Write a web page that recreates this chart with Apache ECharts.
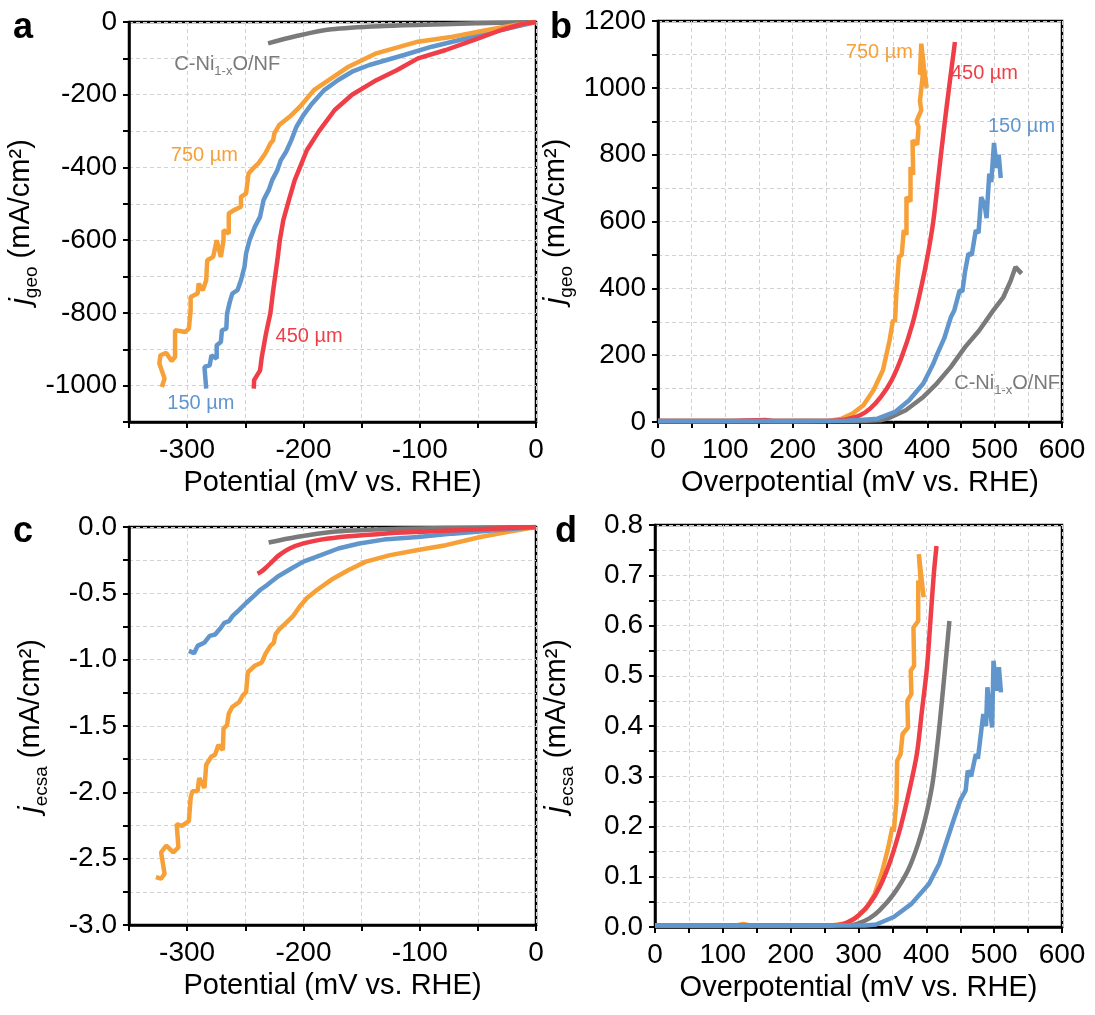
<!DOCTYPE html>
<html>
<head>
<meta charset="utf-8">
<script src="https://cdn.jsdelivr.net/npm/echarts@6/dist/echarts.min.js"></script>
<style>html,body{margin:0;padding:0;background:#fff;}#chart{width:1095px;height:1015px;}</style>
</head>
<body>
<div id="chart"></div>
<script>
// ---------- DATA ----------
// Panel a: j_geo vs potential (HER)
const aGray = [[-230.4,-58.7],[-206,-38.5],[-176,-20],[-131,-11],[-72,-5.5],[-30,-2],[0,0]];
const aOrange = [[-321.8,-1003.7],[-319.4,-980.7],[-323.9,-939.4],[-323.0,-916.5],[-317.9,-910.1],[-313.4,-932.1],[-310.4,-921.1],[-310.4,-847.7],[-301.5,-852.3],[-298.5,-843.1],[-297.0,-792.7],[-297.0,-756.0],[-291.0,-746.8],[-290.1,-719.3],[-286.6,-737.6],[-283.6,-710.1],[-282.7,-655.0],[-277.6,-645.9],[-274.6,-600.0],[-271.0,-645.9],[-268.7,-600.0],[-268.7,-572.5],[-264.2,-581.7],[-264.2,-526.6],[-259.7,-517.4],[-253.7,-508.3],[-253.7,-480.7],[-249.3,-471.6],[-247.2,-416.5],[-243.3,-402.8],[-238.8,-389.0],[-232.8,-361.5],[-228.4,-334.0],[-226.0,-325],[-225.0,-306],[-220.9,-283.5],[-211.9,-260.6],[-203.0,-233.0],[-191.0,-187.2],[-176.1,-155.0],[-161.2,-122.9],[-137.3,-86.2],[-101.5,-54.1],[-71.6,-40.4],[-41.8,-22.0],[-17.9,-8.3],[0,0]];
const aBlue = [[-283.6,-1008.3],[-285.1,-948.6],[-280.6,-944.0],[-279.1,-916.5],[-274.6,-925.7],[-274.6,-889.0],[-271.0,-879.8],[-270.1,-847.7],[-266.3,-843.1],[-265.7,-801.8],[-263.3,-769.7],[-261.2,-746.8],[-256.7,-737.6],[-253.7,-710.1],[-250.7,-673.4],[-249.3,-636.7],[-246.3,-600.0],[-241.8,-563.3],[-237.3,-535.8],[-234.3,-489.9],[-229.9,-462.4],[-226.9,-434.9],[-222.4,-407.3],[-219.4,-379.8],[-214.9,-356.9],[-210.4,-324.8],[-206.0,-288.1],[-200.0,-256.0],[-192.5,-223.9],[-182.1,-187.2],[-170.1,-159.6],[-158.2,-136.7],[-143.3,-118.3],[-128.4,-104.6],[-113.4,-90.8],[-89.6,-67.9],[-65.7,-49.5],[-35.8,-26.6],[0,0]];
const aRed = [[-242.7,-1008],[-242.4,-985],[-237.3,-958],[-235.8,-921],[-232.2,-857],[-228.4,-800],[-226.0,-738],[-222.4,-655],[-220.3,-600],[-217.3,-545],[-212.5,-490],[-207.5,-435],[-203.0,-400],[-197.0,-352],[-186.6,-300],[-173.1,-242],[-158.2,-200],[-137.3,-160],[-119.4,-132],[-101.5,-100],[-77.6,-77],[-53.7,-50],[-29.9,-22],[-11.9,-5.5],[0,0]];

// Panel b: j_geo vs overpotential (OER)
const bGray = [[0,3],[200,3],[300,3],[330,5],[341,10],[368,35],[394,75],[414,115],[435,165],[456,224],[477,274],[498,334],[513,374],[524,424],[531,464],[540,444]];
const bOrange = [[0,3],[100,3],[200,3],[255,4],[273,10],[289,25],[305,50],[320,95],[334,155],[344,245],[349,305],[352,300],[354,385],[356,380],[358,494],[362,500],[365,574],[369,560],[369,673],[375,660],[375,763],[379,740],[378,843],[385,830],[387,883],[384,900],[391,933],[389,960],[394,1052],[389,1040],[391,1132],[395,1060],[399,1000]];
const bRed = [[0,3],[100,3],[160,6],[170,3],[250,3],[270,5],[284,10],[300,20],[315,40],[331,75],[347,125],[362,195],[378,294],[391,404],[401,504],[409,603],[417,743],[425,883],[433,1012],[441,1137]];
const bBlue = [[0,3],[100,3],[200,3],[280,4],[300,6],[326,10],[352,30],[373,65],[394,115],[409,175],[414,200],[425,250],[435,314],[440,334],[448,394],[452,390],[456,450],[461,504],[466,500],[472,574],[476,565],[480,673],[485,650],[488,610],[490,680],[492,743],[495,718],[499,835],[503,760],[506,800],[509,730]];

// Panel c: j_ecsa vs potential
const cGray = [[-229.9,-0.117],[-206,-0.075],[-176,-0.037],[-131,-0.017],[-72,-0.007],[0,0]];
const cRed = [[-239.4,-0.353],[-236,-0.335],[-232.8,-0.311],[-226.9,-0.261],[-220.9,-0.212],[-211.9,-0.162],[-200,-0.124],[-185,-0.095],[-161,-0.070],[-131,-0.050],[-101.5,-0.037],[-56.7,-0.020],[0,0]];
const cBlue = [[-298.5,-0.934],[-294,-0.951],[-291,-0.896],[-285,-0.87],[-280.6,-0.821],[-276,-0.81],[-271,-0.759],[-268,-0.722],[-264,-0.71],[-261,-0.672],[-255,-0.622],[-249.3,-0.573],[-243,-0.523],[-237,-0.473],[-231,-0.436],[-222,-0.373],[-210,-0.311],[-200,-0.261],[-185,-0.212],[-170,-0.162],[-152,-0.124],[-131,-0.095],[-101.5,-0.075],[-71.6,-0.050],[-35.8,-0.025],[0,0]];
const cOrange = [[-326.9,-2.639],[-322.4,-2.651],[-319.4,-2.614],[-322.4,-2.452],[-317.9,-2.402],[-311.9,-2.452],[-307.5,-2.415],[-309.0,-2.240],[-304.5,-2.253],[-298.5,-2.216],[-297.0,-2.041],[-295.5,-1.992],[-291.0,-1.99],[-289.6,-1.892],[-285.1,-1.967],[-283.6,-1.792],[-279.1,-1.730],[-276.1,-1.718],[-273.1,-1.643],[-269.3,-1.680],[-268.7,-1.519],[-265.7,-1.494],[-264.2,-1.407],[-261.2,-1.357],[-255.2,-1.319],[-252.2,-1.270],[-249.3,-1.245],[-247.8,-1.095],[-241.8,-1.046],[-235.8,-1.021],[-232.8,-0.958],[-228.4,-0.896],[-225.4,-0.871],[-224.0,-0.809],[-220.9,-0.772],[-214.9,-0.722],[-209.0,-0.672],[-203.0,-0.597],[-197.0,-0.535],[-188.1,-0.473],[-176.1,-0.398],[-161.2,-0.324],[-146.3,-0.261],[-125.4,-0.212],[-101.5,-0.174],[-77.6,-0.137],[-47.8,-0.075],[-23.9,-0.037],[0,0]];

// Panel d: j_ecsa vs overpotential
const dGray = [[0,0.003],[290,0.004],[300,0.007],[316,0.017],[331,0.033],[352,0.066],[373,0.113],[388,0.166],[399,0.219],[409,0.285],[417,0.371],[424,0.464],[430,0.55],[434,0.609]];
const dOrange = [[0,0.003],[120,0.003],[130,0.006],[140,0.003],[260,0.003],[280,0.007],[295,0.017],[311,0.036],[324,0.066],[334,0.106],[344,0.159],[350,0.199],[352,0.19],[356,0.252],[357,0.331],[362,0.344],[365,0.384],[373,0.397],[372,0.45],[378,0.464],[377,0.51],[382,0.52],[381,0.596],[388,0.609],[388,0.689],[392,0.68],[389,0.742],[396,0.656]];
const dRed = [[0,0.003],[270,0.004],[285,0.010],[300,0.023],[316,0.046],[331,0.079],[347,0.132],[362,0.199],[375,0.272],[386,0.344],[393,0.424],[401,0.517],[406,0.609],[411,0.702],[415,0.758]];
const dBlue = [[0,0.003],[310,0.003],[326,0.005],[352,0.02],[378,0.046],[404,0.086],[419,0.126],[432,0.179],[440,0.212],[450,0.252],[458,0.272],[461,0.311],[466,0.300],[473,0.344],[476,0.335],[481,0.391],[484,0.424],[488,0.400],[490,0.477],[497,0.397],[499,0.53],[504,0.47],[507,0.517],[510,0.467]];

// Labels
const sampleLabels = ['750 µm', '450 µm', '150 µm'];
const refLabel = '{t|C-Ni}{s|1-x}{t|O/NF}';

// ---------- STYLE ----------
const FONT = "'Liberation Sans', Arial, Helvetica, sans-serif";
const C_OR = '#F6A037', C_RED = '#EF3E47', C_BLUE = '#6196CD', C_GRAY = '#7A7A7A';
const gridLine = { show: true, lineStyle: { color: '#d2d2d2', type: [4, 3], width: 1 } };
const axisLine = { show: true, onZero: false, lineStyle: { color: '#000', width: 2.5 } };
const axisTick = { show: true, inside: false, length: 6, lineStyle: { color: '#000', width: 2 } };

function isMult(v, step) { return Math.abs(v / step - Math.round(v / step)) < 1e-6; }

function xAx(grid, min, max, name) {
  return {
    gridIndex: grid, type: 'value', min: min, max: max, interval: 50,
    axisLine: axisLine, axisTick: axisTick, splitLine: gridLine,
    axisLabel: { fontSize: 28, fontFamily: FONT, color: '#000', margin: 14, showMinLabel: true, showMaxLabel: true,
      formatter: v => isMult(v, 100) ? String(Math.round(v)) : '' },
    name: name, nameLocation: 'middle', nameGap: 46,
    nameTextStyle: { fontSize: 29, fontFamily: FONT, color: '#000' }
  };
}
function yAx(grid, min, max, interval, labStep, dec, sub) {
  return {
    gridIndex: grid, type: 'value', min: min, max: max, interval: interval,
    axisLine: axisLine, axisTick: axisTick, splitLine: gridLine,
    axisLabel: { fontSize: 28, fontFamily: FONT, color: '#000', margin: 12, showMinLabel: true, showMaxLabel: true,
      formatter: v => isMult(v, labStep) ? (dec ? v.toFixed(dec) : String(Math.round(v))) : '' },
    name: '{i|j}{s|' + sub + '}{n| (mA/cm²)}', nameLocation: 'middle', nameRotate: 90, nameGap: dec ? 78 : 82,
    nameTextStyle: { fontFamily: FONT, color: '#000', fontSize: 29,
      rich: {
        i: { fontStyle: 'italic', fontSize: 30, fontFamily: FONT, color: '#000', lineHeight: 40 },
        s: { fontSize: 19, fontFamily: FONT, color: '#000', lineHeight: 19, verticalAlign: 'bottom' },
        n: { fontSize: 29, fontFamily: FONT, color: '#000', lineHeight: 40 }
      } }
  };
}
function line(name, data, color, xi, smooth, mp) {
  const s = { name: name, type: 'line', xAxisIndex: xi, yAxisIndex: xi, data: data, showSymbol: false, symbol: 'none',
    smooth: smooth ? 0.3 : false, lineStyle: { color: color, width: 4.5 }, itemStyle: { color: color }, animation: false, z: 3 };
  if (mp) {
    s.markPoint = { symbol: 'circle', symbolSize: 0, silent: true, animation: false,
      data: mp.map(m => ({ coord: m.coord, value: 0, label: { show: true, position: 'right', distance: 0,
        formatter: m.text, color: color, fontSize: 20, fontFamily: FONT,
        rich: { t: { fontSize: 20, fontFamily: FONT, color: color, lineHeight: 26 },
                s: { fontSize: 13, fontFamily: FONT, color: color, lineHeight: 13, verticalAlign: 'bottom' } } } })) };
  }
  return s;
}

const option = {
  backgroundColor: '#fff',
  animation: false,
  grid: [
    { left: 129, top: 22, width: 407, height: 400, show: true, borderColor: '#000', borderWidth: 2.5 },
    { left: 658, top: 21, width: 404, height: 401, show: true, borderColor: '#000', borderWidth: 2.5 },
    { left: 129, top: 527, width: 407, height: 398, show: true, borderColor: '#000', borderWidth: 2.5 },
    { left: 655, top: 525, width: 407, height: 402, show: true, borderColor: '#000', borderWidth: 2.5 }
  ],
  xAxis: [
    xAx(0, -350, 0, 'Potential (mV vs. RHE)'),
    xAx(1, 0, 600, 'Overpotential (mV vs. RHE)'),
    xAx(2, -350, 0, 'Potential (mV vs. RHE)'),
    xAx(3, 0, 600, 'Overpotential (mV vs. RHE)')
  ],
  yAxis: [
    yAx(0, -1100, 0, 100, 200, 0, 'geo'),
    yAx(1, 0, 1200, 100, 200, 0, 'geo'),
    yAx(2, -3, 0, 0.25, 0.5, 1, 'ecsa'),
    yAx(3, 0, 0.8, 0.05, 0.1, 1, 'ecsa')
  ],
  graphic: [
    { type: 'text', left: 13, top: 10, style: { text: 'a', font: 'bold 36px ' + FONT, fill: '#000' } },
    { type: 'text', left: 550, top: 10, style: { text: 'b', font: 'bold 36px ' + FONT, fill: '#000' } },
    { type: 'text', left: 13, top: 514, style: { text: 'c', font: 'bold 36px ' + FONT, fill: '#000' } },
    { type: 'text', left: 555, top: 514, style: { text: 'd', font: 'bold 36px ' + FONT, fill: '#000' } }
  ],
  series: [
    line('C-Ni1-xO/NF', aGray, C_GRAY, 0, true, [{ coord: [-311, -118], text: refLabel }]),
    line('150 µm', aBlue, C_BLUE, 0, false, [{ coord: [-317, -1050], text: sampleLabels[2] }]),
    line('750 µm', aOrange, C_OR, 0, false, [{ coord: [-314, -366], text: sampleLabels[0] }]),
    line('450 µm', aRed, C_RED, 0, false, [{ coord: [-224, -866], text: sampleLabels[1] }]),

    line('C-Ni1-xO/NF', bGray, C_GRAY, 1, false, [{ coord: [440, 115], text: refLabel }]),
    line('750 µm', bOrange, C_OR, 1, false, [{ coord: [279, 1107], text: sampleLabels[0] }]),
    line('450 µm', bRed, C_RED, 1, true, [{ coord: [435, 1044], text: sampleLabels[1] }]),
    line('150 µm', bBlue, C_BLUE, 1, false, [{ coord: [490, 885], text: sampleLabels[2] }]),

    line('C-Ni1-xO/NF', cGray, C_GRAY, 2, true),
    line('750 µm', cOrange, C_OR, 2, false),
    line('150 µm', cBlue, C_BLUE, 2, false),
    line('450 µm', cRed, C_RED, 2, true),

    line('C-Ni1-xO/NF', dGray, C_GRAY, 3, true),
    line('750 µm', dOrange, C_OR, 3, false),
    line('450 µm', dRed, C_RED, 3, true),
    line('150 µm', dBlue, C_BLUE, 3, false)
  ]
};

const chart = echarts.init(document.getElementById('chart'), null, { renderer: 'canvas' });
chart.setOption(option);
</script>
</body>
</html>
